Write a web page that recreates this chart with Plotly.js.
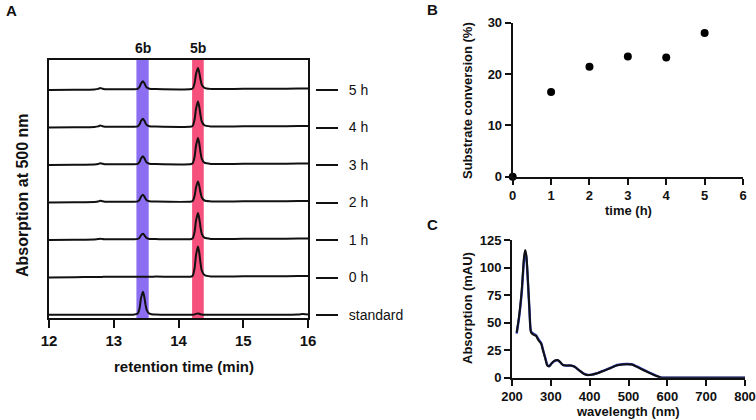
<!DOCTYPE html>
<html>
<head>
<meta charset="utf-8">
<script src="https://cdn.plot.ly/plotly-3.0.1.min.js"></script>
<style>
html,body{margin:0;padding:0;background:#fff;}#chart{width:756px;height:420px;}
</style>
</head>
<body>
<div id="chart"></div>
<script>
// ---------- Panel A: chromatograms (absorption at 500 nm) ----------
const retentionTime = [12.00, 12.40, 12.70, 12.76, 12.79, 12.82, 12.86, 12.95, 13.30, 13.37, 13.40, 13.42, 13.45, 13.47, 13.49, 13.51, 13.55, 13.65, 14.20, 14.22, 14.25, 14.27, 14.30, 14.32, 14.34, 14.36, 14.40, 14.50, 15.00, 15.50, 15.85, 15.92, 16.00];
const traceLabels = ["standard", "0 h", "1 h", "2 h", "3 h", "4 h", "5 h"];
const sigStandard = [0.3, 0.3, 0.3, 0.3, 0.3, 0.3, 0.3, 0.3, 0.3, 1.45, 7.2, 16.4, 23.3, 18.7, 10.65, 4.9, 1.45, 0.4, 0.3, 0.3, 0.66, 1.14, 1.5, 1.26, 0.84, 0.54, 0.3, 0.3, 0.3, 0.3, 0.6, 1.0, 0.6];
const sig0h = [0, 0.3, 0.6, 0.6, 0.6, 0.6, 0.7, 0.7, 0.8, 0.8, 0.8, 0.8, 0.8, 0.8, 0.8, 0.8, 0.8, 0.9, 1.0, 1.9, 10, 22, 31, 25, 14.5, 7, 2.5, 1.1, 1.2, 1.3, 1.4, 1.5, 1.5];
const sig1h = [0, 0.3, 0.6, 0.9, 1.3, 1.0, 0.8, 0.7, 0.8, 1.08, 2.45, 4.65, 6.3, 5.2, 3.3, 1.9, 1.08, 0.9, 1.0, 1.78, 8.8, 19.2, 27, 21.8, 12.7, 6.2, 2.3, 1.1, 1.2, 1.3, 1.4, 1.5, 1.5];
const sig2h = [0, 0.3, 0.6, 1.0, 1.7, 1.3, 0.8, 0.7, 0.8, 1.15, 2.9, 5.7, 7.8, 6.4, 3.95, 2.2, 1.15, 0.9, 1.0, 1.6, 7, 15, 21, 17, 10, 5, 2, 1.1, 1.2, 1.3, 1.4, 1.5, 1.5];
const sig3h = [0, 0.3, 0.6, 1.0, 1.7, 1.3, 0.8, 0.7, 0.8, 1.2, 3.2, 6.4, 8.8, 7.2, 4.4, 2.4, 1.2, 0.9, 1.0, 1.78, 8.8, 19.2, 27, 21.8, 12.7, 6.2, 2.3, 1.1, 1.2, 1.3, 1.4, 1.5, 1.5];
const sig4h = [0, 0.3, 0.6, 1.1, 1.9, 1.4, 0.85, 0.7, 0.8, 1.2, 3.2, 6.4, 8.8, 7.2, 4.4, 2.4, 1.2, 0.9, 1.0, 1.75, 8.5, 18.5, 26, 21, 12.25, 6, 2.25, 1.1, 1.2, 1.3, 1.4, 1.5, 1.5];
const sig5h = [0, 0.3, 0.6, 1.1, 1.9, 1.4, 0.85, 0.7, 0.8, 1.2, 3.2, 6.4, 8.8, 7.2, 4.4, 2.4, 1.2, 0.9, 1.0, 1.6, 7.3, 15.7, 22, 17.8, 10.5, 5.2, 2.1, 1.1, 1.2, 1.3, 1.4, 1.5, 1.5];
const peakBands = [{name: "6b", from: 13.35, to: 13.54}, {name: "5b", from: 14.21, to: 14.39}];
const ticksA = [12, 13, 14, 15, 16];

// ---------- Panel B: substrate conversion ----------
const timeH = [0, 1, 2, 3, 4, 5];
const conversion = [0, 16.5, 21.4, 23.4, 23.2, 28.0];
const ticksBx = [0, 1, 2, 3, 4, 5, 6];
const ticksBy = [0, 10, 20, 30];

// ---------- Panel C: absorption spectrum ----------
const wavelength = [212, 218, 225, 231, 234, 237, 241, 245, 249, 255, 262, 268, 275, 280, 286, 291, 296, 302, 310, 317, 323, 331, 340, 352, 361, 374, 386, 395, 405, 420, 437, 454, 471, 484, 496, 508, 521, 538, 555, 572, 585, 600, 700, 800];
const absBlack = [41, 55, 79, 110, 116, 111, 88, 61, 41, 39, 38, 34, 31, 24.6, 17, 11, 10.3, 13, 15.5, 16, 14.6, 11.6, 11, 11, 10, 6.4, 3.3, 2.4, 2.7, 4, 6.4, 8.8, 11.3, 12, 12.3, 12, 10, 7, 4.2, 1.5, 0, 0, 0, 0];
const absBlue = [40, 54, 77, 107, 113, 109, 87, 61, 42, 40, 38.5, 35, 31.5, 25, 17.5, 11.5, 10.5, 13, 15.3, 15.8, 14.4, 11.5, 11, 11, 10, 6.4, 3.4, 2.5, 2.8, 4.1, 6.5, 9, 11.5, 12.2, 12.5, 12.2, 10.2, 7.3, 4.4, 1.7, 0.1, 0, 0, 0];
const ticksCx = [200, 300, 400, 500, 600, 700, 800];
const ticksCy = [0, 25, 50, 75, 100, 125];

// ---------- build ----------
const FONT = '"Liberation Sans", Arial, sans-serif';
const signals = [sigStandard, sig0h, sig1h, sig2h, sig3h, sig4h, sig5h];
const SPACING = 37.5;
const offsets = signals.map((s, i) => i * SPACING);

const data = [];
signals.forEach((sig, i) => {
  data.push({
    x: retentionTime, y: sig.map(v => v + offsets[i]),
    type: 'scatter', mode: 'lines', xaxis: 'x', yaxis: 'y',
    line: {color: '#111', width: 2, shape: 'spline', smoothing: 0.7},
    hoverinfo: 'skip', showlegend: false
  });
});
data.push({x: [12], y: [0], xaxis: 'x', yaxis: 'y2', mode: 'markers', marker: {opacity: 0}, showlegend: false, hoverinfo: 'skip'});

data.push({
  x: timeH, y: conversion, type: 'scatter', mode: 'markers', xaxis: 'x2', yaxis: 'y3',
  marker: {color: '#000', size: 8}, cliponaxis: false, showlegend: false
});

data.push({
  x: wavelength, y: absBlue, type: 'scatter', mode: 'lines', xaxis: 'x3', yaxis: 'y4',
  line: {color: '#2b3bc0', width: 2.4, shape: 'spline', smoothing: 0.6}, showlegend: false
});
data.push({
  x: wavelength, y: absBlack, type: 'scatter', mode: 'lines', xaxis: 'x3', yaxis: 'y4',
  line: {color: '#111', width: 2, shape: 'spline', smoothing: 0.6}, showlegend: false
});

const W = 756, H = 420;
const px = v => v / W, py = v => 1 - v / H;

const bandColors = {"6b": '#8b6ef2', "5b": '#f5517c'};
const shapes = peakBands.map(b => ({
  type: 'rect', xref: 'x', yref: 'y domain', x0: b.from, x1: b.to, y0: 0, y1: 1,
  fillcolor: bandColors[b.name], line: {width: 0}, layer: 'below'
}));

const ann = (text, x, y, size, angle) => ({
  text: '<b>' + text + '</b>', x: px(x), y: py(y), xref: 'paper', yref: 'paper',
  xanchor: 'center', yanchor: 'middle', textangle: angle || 0, showarrow: false,
  font: {family: FONT, size: size, color: '#111'}
});
const annotations = [
  ann('A', 11, 10, 15),
  ann('B', 432, 9, 15),
  ann('C', 432, 224, 15),
  ann('Absorption at 500 nm', 22, 195, 16, -90),
  ann('retention time (min)', 184, 366, 15),
  ann('Substrate conversion (%)', 467, 100, 13, -90),
  ann('time (h)', 628, 210, 13),
  ann('Absorption (mAU)', 467, 308, 13, -90),
  ann('wavelength (nm)', 628, 411, 13)
];
peakBands.forEach(b => annotations.push({
  text: '<b>' + b.name + '</b>', x: (b.from + b.to) / 2, xref: 'x', y: py(48), yref: 'paper',
  xanchor: 'center', yanchor: 'middle',
  showarrow: false, font: {family: FONT, size: 14, color: '#111'}
}));

const tf = size => ({family: FONT, size: size, color: '#111'});
const common = {showline: true, linewidth: 2, linecolor: '#111', ticks: 'outside', tickwidth: 2, tickcolor: '#111',
  showgrid: false, zeroline: false};

const layout = {
  width: W, height: H, margin: {l: 0, r: 0, t: 0, b: 0},
  paper_bgcolor: '#fff', plot_bgcolor: 'rgba(0,0,0,0)',
  font: {family: FONT, color: '#111'},
  showlegend: false,
  xaxis: Object.assign({}, common, {domain: [px(49), px(308)], range: [12, 16], tickvals: ticksA,
    mirror: true, ticklen: 8, tickfont: tf(15), anchor: 'y'}),
  yaxis: {domain: [py(318), py(60)], range: [-3, 255], showline: true, linewidth: 2, linecolor: '#111', mirror: true,
    showticklabels: false, ticks: '', showgrid: false, zeroline: false, anchor: 'x'},
  yaxis2: {overlaying: 'y', side: 'right', anchor: 'free', position: px(315), range: [-3, 255],
    tickvals: offsets, ticktext: traceLabels, ticks: 'outside', ticklen: 22, tickwidth: 2, tickcolor: '#111',
    showline: false, showgrid: false, zeroline: false, ticklabelstandoff: 8, tickfont: tf(14)},
  xaxis2: Object.assign({}, common, {domain: [px(512.7), px(743)], range: [0, 6], tickvals: ticksBx,
    anchor: 'y3', ticklen: 6, tickfont: tf(13)}),
  yaxis3: Object.assign({}, common, {domain: [py(176.7), py(22.7)], range: [0, 30], tickvals: ticksBy,
    anchor: 'x2', ticklen: 6, tickfont: tf(13)}),
  xaxis3: Object.assign({}, common, {domain: [px(512), px(745)], range: [200, 800], tickvals: ticksCx,
    anchor: 'y4', ticklen: 6, tickfont: tf(13)}),
  yaxis4: Object.assign({}, common, {domain: [py(377.7), py(240)], range: [0, 125], tickvals: ticksCy,
    anchor: 'x3', ticklen: 6, tickfont: tf(13)}),
  shapes: shapes,
  annotations: annotations
};

Plotly.newPlot('chart', data, layout, {staticPlot: true, displayModeBar: false}).then(gd => {
  ['xtick', 'x2tick', 'x3tick', 'y3tick', 'y4tick'].forEach(cls => {
    gd.querySelectorAll('g.' + cls + ' text').forEach(t => {
      t.style.setProperty('font-weight', '700', 'important');
      t.setAttribute('font-weight', '700');
    });
  });
});
</script>
</body>
</html>
